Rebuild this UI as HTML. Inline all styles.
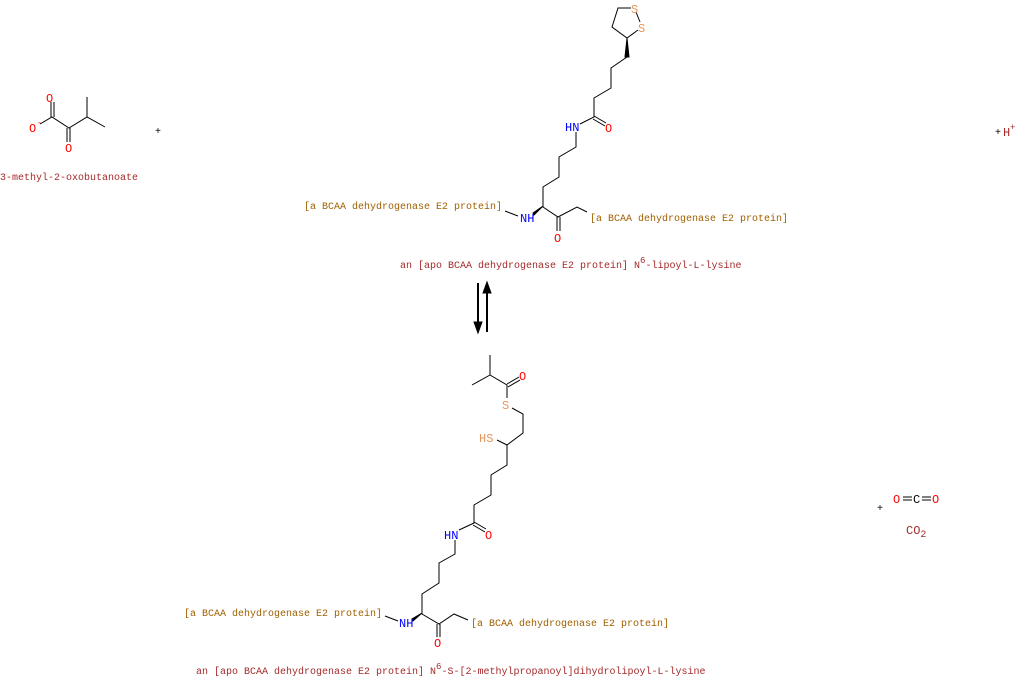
<!DOCTYPE html>
<html><head><meta charset="utf-8"><style>
html,body{margin:0;padding:0;background:#fff;}
svg{display:block;}
text{font-family:"Liberation Mono",monospace;font-size:10px;}
text.a{font-size:12px;}
.r{fill:#a52a2a}.p{fill:#a06000}.o{fill:#ff0000}.n{fill:#0000ff}.s{fill:#e8955a}.k{fill:#000}
</style></head><body>
<svg width="1016" height="677" viewBox="0 0 1016 677" xmlns="http://www.w3.org/2000/svg">
<g stroke="#000" stroke-width="1" fill="none">
<polyline points="40,124 52,117 69,128 87,117 105,127"/>
<line x1="87" y1="117" x2="87" y2="97"/>
<line x1="51" y1="117" x2="51" y2="102"/><line x1="54" y1="117" x2="54" y2="102"/>
<line x1="67" y1="128" x2="67" y2="142"/><line x1="70" y1="128" x2="70" y2="142"/>
<polyline points="631,8 618,8 612,27 627,38 638,30"/>
<line x1="636" y1="12" x2="640" y2="22"/>
<polygon points="627,38 625,57 629,57" fill="#000"/>
<polyline points="627,57 611,68 611,88 594,98 594,117 580,124"/>
<line x1="594" y1="116" x2="606" y2="123"/><line x1="593" y1="119" x2="605" y2="126"/>
<polyline points="576,132 576,147 559,157 559,177 543,187 543,207 558,217 577,207 587,212"/>
<polygon points="543,206 533,213 534,215" fill="#000"/>
<line x1="505" y1="211" x2="518" y2="216"/>
<line x1="557" y1="217" x2="557" y2="231"/><line x1="560" y1="217" x2="560" y2="231"/>
<line x1="478" y1="283" x2="478" y2="325" stroke-width="2"/>
<polygon points="474,322 482,322 478,333" fill="#000"/>
<line x1="487" y1="290" x2="487" y2="332" stroke-width="2"/>
<polygon points="483,293 491,293 487,282" fill="#000"/>
<polyline points="490,355 490,375 472,385"/>
<polyline points="490,375 507,385 507,398"/>
<line x1="507" y1="384" x2="519" y2="377"/><line x1="508" y1="387" x2="520" y2="380"/>
<polyline points="512,408 523,414 523,433 507,445 507,465 491,475 491,495 474,505 474,523 459,530"/>
<line x1="507" y1="445" x2="497" y2="440"/>
<line x1="474" y1="522" x2="486" y2="529"/><line x1="473" y1="525" x2="485" y2="532"/>
<polyline points="455,540 455,554 439,563 439,583 422,594 422,614 439,624 454,614 468,620"/>
<polygon points="422,613 412,619 413,621" fill="#000"/>
<line x1="385" y1="616" x2="398" y2="621"/>
<line x1="437" y1="624" x2="437" y2="637"/><line x1="440" y1="624" x2="440" y2="637"/>
<line x1="903" y1="497" x2="912" y2="497"/><line x1="903" y1="500" x2="912" y2="500"/>
<line x1="922" y1="497" x2="931" y2="497"/><line x1="922" y1="500" x2="931" y2="500"/>
</g>
<text x="46" y="102" class="o a">O</text>
<text x="29" y="132" class="o a">O</text><text x="37" y="125" class="o" style="font-size:8px">-</text>
<text x="65" y="152" class="o a">O</text>
<text x="0" y="180" class="r">3-methyl-2-oxobutanoate</text>
<text x="155" y="134" class="k">+</text>
<text x="631" y="13" class="s a">S</text>
<text x="638" y="32" class="s a">S</text>
<text x="565" y="131" class="n a">HN</text>
<text x="605" y="132" class="o a">O</text>
<text x="520" y="222" class="n a">NH</text>
<text x="554" y="242" class="o a">O</text>
<text x="304" y="209" class="p">[a BCAA dehydrogenase E2 protein]</text>
<text x="590" y="221" class="p">[a BCAA dehydrogenase E2 protein]</text>
<text x="400" y="268" class="r">an [apo BCAA dehydrogenase E2 protein] N<tspan dy="-5" style="font-size:9px">6</tspan><tspan dy="5">-lipoyl-L-lysine</tspan></text>
<text x="995" y="135" class="k">+</text><text x="1003" y="136" class="r a">H</text><text x="1010" y="130" class="r" style="font-size:9px">+</text>
<text x="519" y="380" class="o a">O</text>
<text x="502" y="409" class="s a">S</text>
<text x="479" y="442" class="s a">HS</text>
<text x="444" y="539" class="n a">HN</text>
<text x="485" y="539" class="o a">O</text>
<text x="399" y="627" class="n a">NH</text>
<text x="434" y="647" class="o a">O</text>
<text x="184" y="616" class="p">[a BCAA dehydrogenase E2 protein]</text>
<text x="471" y="626" class="p">[a BCAA dehydrogenase E2 protein]</text>
<text x="196" y="674" class="r">an [apo BCAA dehydrogenase E2 protein] N<tspan dy="-5" style="font-size:9px">6</tspan><tspan dy="5">-S-[2-methylpropanoyl]dihydrolipoyl-L-lysine</tspan></text>
<text x="877" y="511" class="k">+</text>
<text x="893" y="503" class="o a">O</text><text x="913" y="503" class="k a">C</text><text x="932" y="503" class="o a">O</text>
<text x="906" y="534" class="r a">CO<tspan dy="3" style="font-size:10px">2</tspan></text>
</svg>
</body></html>
